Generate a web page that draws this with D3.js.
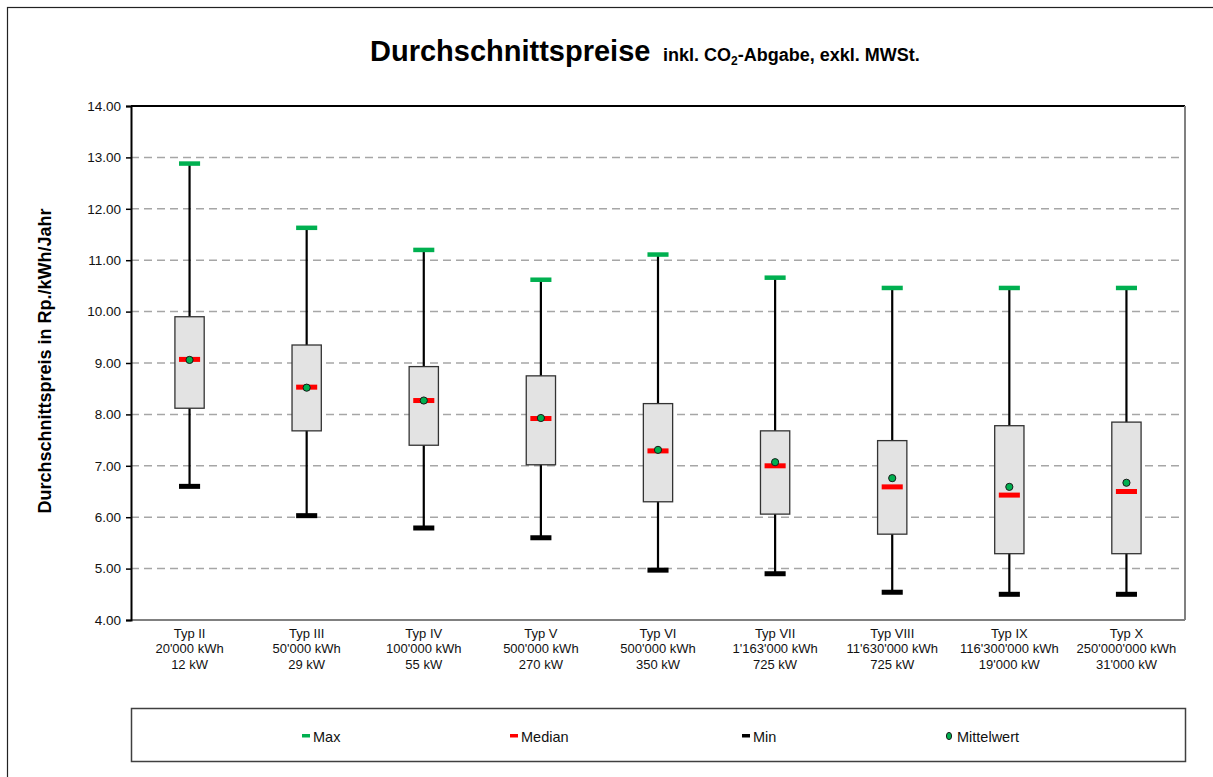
<!DOCTYPE html>
<html>
<head>
<meta charset="utf-8">
<script src="https://cdn.jsdelivr.net/npm/d3@7/dist/d3.min.js"></script>
<style>
  html, body { margin: 0; padding: 0; background: #fff; }
  svg { display: block; font-family: "Liberation Sans", Arial, sans-serif; }
</style>
</head>
<body>
<svg id="chart" width="1213" height="777"></svg>
<script>
// ---- data ----
const categories = ["Typ II", "Typ III", "Typ IV", "Typ V", "Typ VI", "Typ VII", "Typ VIII", "Typ IX", "Typ X"];
const energyLabels = ["20'000 kWh", "50'000 kWh", "100'000 kWh", "500'000 kWh", "500'000 kWh", "1'163'000 kWh", "11'630'000 kWh", "116'300'000 kWh", "250'000'000 kWh"];
const powerLabels = ["12 kW", "29 kW", "55 kW", "270 kW", "350 kW", "725 kW", "725 kW", "19'000 kW", "31'000 kW"];
const maxValues    = [12.88, 11.63, 11.20, 10.62, 11.11, 10.66, 10.46, 10.46, 10.46];
const q3Values     = [9.90, 9.35, 8.93, 8.75, 8.21, 7.68, 7.49, 7.78, 7.85];
const medianValues = [9.07, 8.53, 8.27, 7.92, 7.29, 7.00, 6.59, 6.43, 6.50];
const meanValues   = [9.06, 8.52, 8.27, 7.93, 7.31, 7.07, 6.76, 6.59, 6.67];
const q1Values     = [8.12, 7.68, 7.40, 7.02, 6.30, 6.06, 5.67, 5.29, 5.29];
const minValues    = [6.60, 6.03, 5.79, 5.60, 4.97, 4.90, 4.54, 4.50, 4.50];
const yTicks = [4, 5, 6, 7, 8, 9, 10, 11, 12, 13, 14];
const legendLabels = ["Max", "Median", "Min", "Mittelwert"];

const title = "Durchschnittspreise";
const yTitle = "Durchschnittspreis in Rp./kWh/Jahr";

// ---- layout ----
const svg = d3.select("#chart");
const plot = { left: 131, right: 1185, top: 106, bottom: 620 };
const GREEN = "#00b050", RED = "#ff0000";

svg.append("rect").attr("x", 0).attr("y", 0).attr("width", 1213).attr("height", 777).attr("fill", "#fff");
// outer chart border
svg.append("rect").attr("x", 7.5).attr("y", 7.5).attr("width", 1240).attr("height", 820)
  .attr("fill", "none").attr("stroke", "#222").attr("stroke-width", 1.2);

const x = d3.scaleBand().domain(categories).range([plot.left, plot.right]).padding(0);
const y = d3.scaleLinear().domain([4, 14]).range([plot.bottom, plot.top]);

// title
const t = svg.append("text").attr("x", 370).attr("y", 61).attr("font-weight", "bold").attr("fill", "#000");
t.append("tspan").attr("font-size", 29).text(title);
const st = svg.append("text").attr("x", 663).attr("y", 61).attr("font-weight", "bold").attr("font-size", 18).attr("fill", "#000");
st.append("tspan").text("inkl. CO");
st.append("tspan").attr("font-size", 12).attr("dy", 4).text("2");
st.append("tspan").attr("dy", -4).text("-Abgabe, exkl. MWSt.");

// gridlines
svg.append("g").selectAll("line").data(yTicks.filter(d => d > 4 && d < 14)).join("line")
  .attr("x1", plot.left).attr("x2", plot.right)
  .attr("y1", d => y(d)).attr("y2", d => y(d))
  .attr("stroke", "#a6a6a6").attr("stroke-width", 1.5).attr("stroke-dasharray", "8,5");

// plot borders: top black, right gray, bottom gray
svg.append("line").attr("x1", plot.left).attr("x2", plot.right).attr("y1", plot.top).attr("y2", plot.top)
  .attr("stroke", "#000").attr("stroke-width", 2);
svg.append("line").attr("x1", plot.right).attr("x2", plot.right).attr("y1", plot.top).attr("y2", plot.bottom)
  .attr("stroke", "#808080").attr("stroke-width", 2);
svg.append("line").attr("x1", plot.left).attr("x2", plot.right).attr("y1", plot.bottom).attr("y2", plot.bottom)
  .attr("stroke", "#808080").attr("stroke-width", 2);

// y axis
const yAxis = d3.axisLeft(y).tickValues(yTicks).tickFormat(d3.format(".2f")).tickSize(5).tickPadding(5);
const ya = svg.append("g").attr("transform", `translate(${plot.left},0)`).call(yAxis);
ya.select(".domain").attr("stroke", "#000").attr("stroke-width", 2);
ya.selectAll(".tick line").attr("stroke", "#000").attr("stroke-width", 1.5);
ya.selectAll(".tick text").attr("font-size", 13.5).attr("fill", "#111").attr("font-family", "Liberation Sans, Arial, sans-serif");

// y axis title
svg.append("text").attr("transform", `translate(51,${(plot.top + plot.bottom) / 2 - 2}) rotate(-90)`)
  .attr("text-anchor", "middle").attr("font-weight", "bold").attr("font-size", 18).attr("fill", "#000").text(yTitle);

// x labels
const xl = svg.append("g").selectAll("text").data(categories).join("text")
  .attr("text-anchor", "middle").attr("font-size", 13).attr("fill", "#111");
xl.each(function (d, i) {
  const cx = x(d) + x.bandwidth() / 2;
  const el = d3.select(this);
  el.append("tspan").attr("x", cx).attr("y", 638).text(d);
  el.append("tspan").attr("x", cx).attr("y", 653).text(energyLabels[i]);
  el.append("tspan").attr("x", cx).attr("y", 669).text(powerLabels[i]);
});

// boxes
const bw = x.bandwidth() * 0.25;
const mw = x.bandwidth() * 0.18;
const g = svg.append("g").selectAll("g").data(categories).join("g")
  .attr("transform", d => `translate(${x(d) + x.bandwidth() / 2},0)`);
g.append("line").attr("x1", 0).attr("x2", 0)
  .attr("y1", (d, i) => y(maxValues[i])).attr("y2", (d, i) => y(minValues[i]))
  .attr("stroke", "#000").attr("stroke-width", 2.2);
g.append("rect").attr("x", -bw / 2).attr("width", bw)
  .attr("y", (d, i) => y(q3Values[i])).attr("height", (d, i) => y(q1Values[i]) - y(q3Values[i]))
  .attr("fill", "#e3e3e3").attr("stroke", "#333").attr("stroke-width", 1.3);
g.append("rect").attr("x", -mw / 2).attr("width", mw).attr("height", 5)
  .attr("y", (d, i) => y(medianValues[i]) - 2.5).attr("fill", RED);
g.append("rect").attr("x", -mw / 2).attr("width", mw).attr("height", 4.5)
  .attr("y", (d, i) => y(maxValues[i]) - 2.25).attr("fill", GREEN);
g.append("rect").attr("x", -mw / 2).attr("width", mw).attr("height", 5)
  .attr("y", (d, i) => y(minValues[i]) - 2.5).attr("fill", "#000");
g.append("circle").attr("cx", 0).attr("cy", (d, i) => y(meanValues[i])).attr("r", 3.6)
  .attr("fill", GREEN).attr("stroke", "#1a1a1a").attr("stroke-width", 1);

// legend
svg.append("rect").attr("x", 131.5).attr("y", 708.5).attr("width", 1054).attr("height", 53)
  .attr("fill", "#fff").attr("stroke", "#404040").attr("stroke-width", 1.5);
const legendX = [302, 510, 742, 949];
const lg = svg.append("g").selectAll("g").data(legendLabels).join("g")
  .attr("transform", (d, i) => `translate(${legendX[i]},736)`);
lg.each(function (d, i) {
  const el = d3.select(this);
  if (i === 3) {
    el.append("ellipse").attr("cx", 0).attr("cy", 0).attr("rx", 2.6).attr("ry", 3.6)
      .attr("fill", GREEN).attr("stroke", "#1a1a1a").attr("stroke-width", 1);
  } else {
    el.append("rect").attr("x", 0).attr("y", -2).attr("width", 8).attr("height", 3.5)
      .attr("fill", [GREEN, RED, "#000"][i]);
  }
  el.append("text").attr("x", i === 3 ? 8 : 11).attr("y", 5.5).attr("font-size", 14.5).attr("fill", "#111").text(d);
});
</script>
</body>
</html>
